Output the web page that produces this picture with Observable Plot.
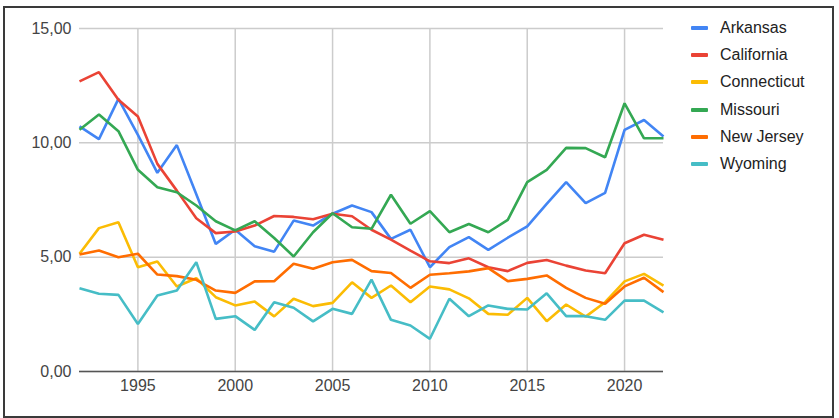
<!DOCTYPE html>
<html>
<head>
<meta charset="utf-8">
<script src="https://cdn.jsdelivr.net/npm/d3@7"></script>
<script src="https://cdn.jsdelivr.net/npm/@observablehq/plot@0.6"></script>
<style>
  html, body { margin: 0; padding: 0; background: #fff; }
  #wrap { position: relative; width: 839px; height: 418px; overflow: hidden; font-family: Arial, "Liberation Sans", sans-serif; }
  #frame { position: absolute; left: 3px; top: 6px; width: 827px; height: 408px; border: 2px solid #3a3a3a; pointer-events: none; }
  #legend { position: absolute; left: 691px; top: 18px; }
  .item { position: absolute; left: 0; height: 20px; white-space: nowrap; font-size: 16px; color: #222; }
  .sw { position: absolute; left: 0; top: 8px; width: 17px; height: 4px; border-radius: 1px; }
  .lab { position: absolute; left: 29px; top: 1px; }
</style>
</head>
<body>
<div id="wrap"><div id="frame"></div><div id="legend"></div></div>
<script>
const years = d3.range(1992, 2023);
const states = ["Arkansas", "California", "Connecticut", "Missouri", "New Jersey", "Wyoming"];
const colors = ["#4285F4", "#EA4335", "#FBBC04", "#34A853", "#FF6D01", "#46BDC6"];
const yTicks = [0, 5, 10, 15];
const xTicks = [1995, 2000, 2005, 2010, 2015, 2020];

const arkansas   = [10.72, 10.16, 11.92, 10.35, 8.69, 9.9, 7.75, 5.58, 6.2, 5.48, 5.24, 6.6, 6.38, 6.9, 7.26, 6.97, 5.8, 6.2, 4.56, 5.44, 5.88, 5.32, 5.85, 6.35, 7.33, 8.28, 7.36, 7.81, 10.57, 11.0, 10.28];
const california = [12.69, 13.09, 11.88, 11.15, 9.08, 7.91, 6.7, 6.05, 6.12, 6.38, 6.8, 6.76, 6.66, 6.9, 6.79, 6.2, 5.77, 5.29, 4.82, 4.74, 4.95, 4.56, 4.39, 4.75, 4.88, 4.63, 4.42, 4.3, 5.61, 5.98, 5.76];
const connecticut= [5.15, 6.27, 6.53, 4.56, 4.81, 3.72, 4.08, 3.25, 2.89, 3.06, 2.41, 3.18, 2.86, 3.0, 3.9, 3.22, 3.76, 3.03, 3.72, 3.59, 3.2, 2.52, 2.48, 3.22, 2.2, 2.93, 2.4, 3.03, 3.94, 4.27, 3.76];
const missouri   = [10.57, 11.24, 10.51, 8.82, 8.06, 7.84, 7.26, 6.57, 6.17, 6.57, 5.84, 5.03, 6.09, 6.92, 6.31, 6.24, 7.73, 6.46, 7.01, 6.09, 6.45, 6.09, 6.63, 8.28, 8.82, 9.78, 9.77, 9.37, 11.73, 10.2, 10.2];
const newJersey  = [5.12, 5.29, 5.0, 5.15, 4.24, 4.17, 4.01, 3.54, 3.44, 3.94, 3.95, 4.71, 4.49, 4.78, 4.88, 4.39, 4.31, 3.66, 4.23, 4.3, 4.38, 4.52, 3.95, 4.05, 4.2, 3.66, 3.22, 2.96, 3.72, 4.1, 3.47];
const wyoming    = [3.64, 3.4, 3.35, 2.08, 3.32, 3.54, 4.78, 2.3, 2.42, 1.82, 3.03, 2.79, 2.19, 2.74, 2.52, 4.02, 2.26, 2.01, 1.43, 3.18, 2.42, 2.89, 2.74, 2.71, 3.42, 2.42, 2.42, 2.26, 3.1, 3.1, 2.59];

const series = [arkansas, california, connecticut, missouri, newJersey, wyoming];
const rows = [];
states.forEach((s, i) => series[i].forEach((v, j) => rows.push({state: s, year: years[j], value: v})));

const fmt = d => d.toFixed(2).replace(".", ",");

const chart = Plot.plot({
  width: 839,
  height: 418,
  marginLeft: 79,
  marginRight: 176,
  marginTop: 28,
  marginBottom: 47,
  style: {fontFamily: "Arial, 'Liberation Sans', sans-serif", fontSize: "16px", color: "#444", background: "transparent", overflow: "visible"},
  x: {domain: [1992, 2022], ticks: xTicks, tickFormat: d => String(d), label: null, tickSize: 0, tickPadding: 8},
  y: {domain: [0, 15], ticks: yTicks, tickFormat: fmt, label: null, tickSize: 0, tickPadding: 8},
  color: {domain: states, range: colors},
  marks: [
    Plot.gridX(xTicks, {stroke: "#cccccc", strokeOpacity: 1, strokeWidth: 1.5}),
    Plot.gridY(yTicks, {stroke: "#cccccc", strokeOpacity: 1, strokeWidth: 1.5}),
    Plot.ruleY([0], {stroke: "#555", strokeWidth: 1.5}),
    Plot.line(rows, {x: "year", y: "value", z: "state", stroke: "state", strokeWidth: 2.6, strokeLinejoin: "miter", strokeLinecap: "butt"}),
    Plot.axisX(xTicks, {tickSize: 0, tickPadding: 8, fontSize: 16, fill: "#444", tickFormat: d => String(d)}),
    Plot.axisY(yTicks, {tickSize: 0, tickPadding: 8, fontSize: 16, fill: "#444", tickFormat: fmt})
  ]
});
document.getElementById("wrap").prepend(chart);

const legend = document.getElementById("legend");
states.forEach((s, i) => {
  const it = document.createElement("div");
  it.className = "item";
  it.style.top = (i * 27.2) + "px";
  it.innerHTML = `<span class="sw" style="background:${colors[i]}"></span><span class="lab">${s}</span>`;
  legend.appendChild(it);
});
</script>
</body>
</html>
